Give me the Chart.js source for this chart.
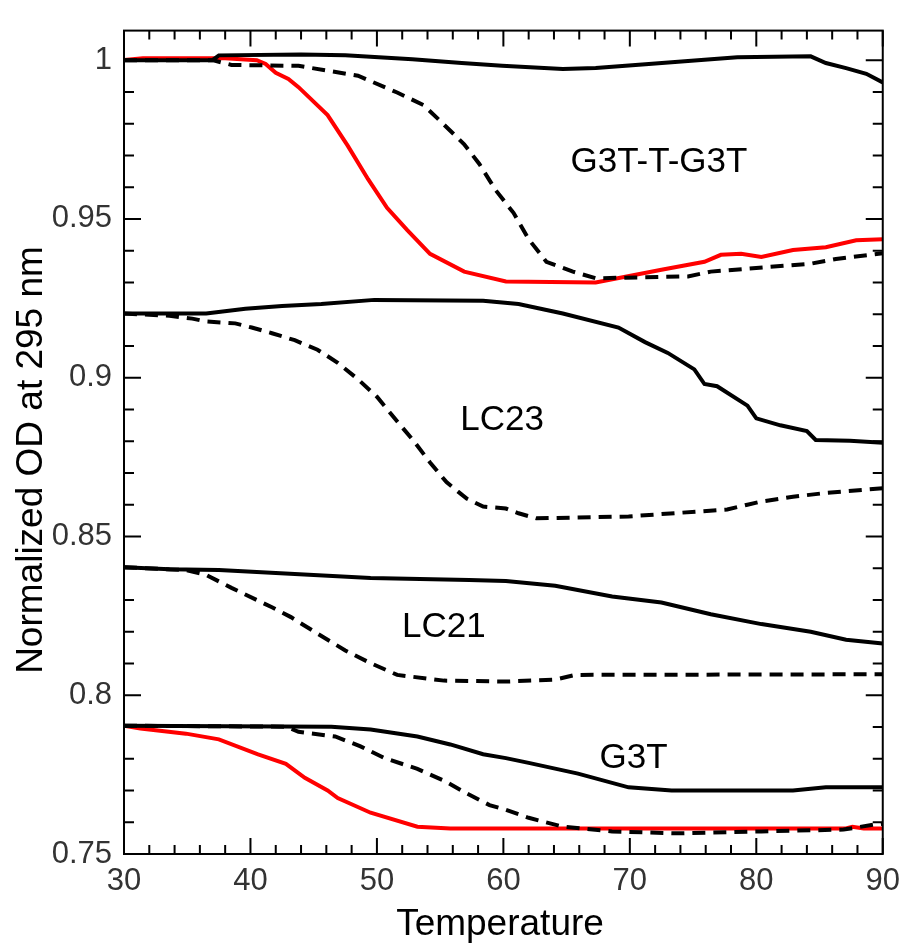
<!DOCTYPE html>
<html>
<head>
<meta charset="utf-8">
<title>Normalized OD at 295 nm</title>
<script src="https://cdn.jsdelivr.net/npm/chart.js@4.4.1/dist/chart.umd.min.js"></script>
<style>
  body { margin: 0; background: #fff; }
  #wrap { width: 909px; height: 943px; }
</style>
</head>
<body>
<div id="wrap"><canvas id="odChart" width="909" height="943"></canvas></div>
<script>
// axis ticks
const xTicks = [30, 40, 50, 60, 70, 80, 90];
const yTicks = [0.75, 0.8, 0.85, 0.9, 0.95, 1];

// [temperature, normalized OD]
const g3ttg3tSolid = [[30, 1.0], [37, 1.0], [37.5, 1.0015], [44, 1.0018], [47.5, 1.0015], [52.8, 1.0003], [56.7, 0.9991], [59.9, 0.9982], [64.7, 0.9972], [67.3, 0.9975], [71.5, 0.9988], [74.6, 0.9997], [78.5, 1.0009], [84.3, 1.0012], [85.5, 0.9991], [87.1, 0.9975], [88.7, 0.9957], [90, 0.993]];
const g3ttg3tDash = [[30, 1.0], [37, 1.0], [38.5, 0.9985], [43.8, 0.9982], [48.5, 0.9951], [51.6, 0.9898], [53.7, 0.9858], [55.3, 0.9797], [56.9, 0.9735], [58.1, 0.9673], [59.4, 0.959], [60.8, 0.9519], [62.0, 0.9436], [63.4, 0.9365], [65.5, 0.9334], [67.3, 0.9313], [74.6, 0.9319], [76.4, 0.9334], [84.3, 0.9359], [86.3, 0.9374], [90, 0.9392]];
const g3ttg3tRed = [[30, 1.0], [31.5, 1.0006], [38, 1.0006], [40.5, 1.0], [41.2, 0.9988], [42, 0.996], [43, 0.9941], [43.8, 0.9915], [46.1, 0.9827], [47.7, 0.973], [49.3, 0.9625], [50.8, 0.9535], [52.4, 0.9465], [54.2, 0.939], [56.9, 0.9334], [60.2, 0.9303], [67.3, 0.9300], [72.5, 0.934], [75.9, 0.9365], [77.2, 0.9387], [78.8, 0.939], [80.4, 0.938], [82.9, 0.9402], [85.5, 0.9411], [87.9, 0.9433], [90, 0.9436]];

const lc23Solid = [[30, 0.9202], [36.5, 0.9202], [39.6, 0.9217], [42.5, 0.9226], [45.6, 0.9232], [49.8, 0.9245], [58.4, 0.9242], [61.2, 0.9232], [64.7, 0.9202], [69.1, 0.9158], [71.2, 0.9112], [73, 0.9078], [75.1, 0.9026], [75.9, 0.898], [76.9, 0.8973], [79.3, 0.8912], [80, 0.8872], [81.9, 0.885], [84, 0.8832], [84.7, 0.8804], [87.4, 0.8801], [90, 0.8795]];
const lc23Dash = [[30, 0.9202], [33.6, 0.9195], [35.4, 0.9186], [36.5, 0.9177], [38.8, 0.9171], [40.1, 0.9158], [41.7, 0.914], [43.5, 0.9118], [45.3, 0.9088], [46.9, 0.9047], [48.5, 0.8995], [50, 0.894], [51.4, 0.8872], [52.9, 0.8801], [54.2, 0.8733], [55.5, 0.8671], [57.1, 0.8619], [58.4, 0.8594], [60.2, 0.8588], [61.2, 0.8573], [62.6, 0.8557], [69.9, 0.8563], [77.7, 0.8585], [79.3, 0.86], [80.4, 0.861], [82.9, 0.8625], [85.5, 0.8637], [90, 0.8652]];

const lc21Solid = [[30, 0.8403], [33.6, 0.8397], [37.5, 0.8394], [43.5, 0.8382], [49.5, 0.8369], [57.3, 0.8363], [60.2, 0.836], [64.1, 0.8345], [68.6, 0.8311], [72.5, 0.8292], [76.4, 0.8255], [80.4, 0.8224], [84.3, 0.82], [87.1, 0.8175], [90, 0.8163]];
const lc21Dash = [[30, 0.8403], [34.9, 0.8394], [36.5, 0.8379], [38.5, 0.8338], [41.7, 0.8277], [43.2, 0.8246], [45.3, 0.8194], [47.5, 0.8141], [49.5, 0.8101], [51.6, 0.8064], [55.3, 0.8046], [60.2, 0.8043], [64.1, 0.8049], [65.7, 0.8064], [90, 0.8066]];

const g3tSolid = [[30, 0.7904], [46.4, 0.7901], [49.5, 0.7892], [53.2, 0.787], [55.8, 0.7845], [58.4, 0.7814], [60.2, 0.7802], [62, 0.7787], [65.9, 0.7753], [69.9, 0.771], [73.3, 0.77], [82.9, 0.77], [85.5, 0.771], [90, 0.771]];
const g3tDash = [[30, 0.7904], [42.8, 0.7901], [43.8, 0.7885], [46.7, 0.787], [48.7, 0.7839], [50.6, 0.7802], [53.2, 0.7768], [55.3, 0.7731], [57.1, 0.7691], [58.9, 0.7654], [60.2, 0.7639], [62, 0.7614], [64.7, 0.7586], [68.6, 0.7571], [73.8, 0.7565], [80.4, 0.7571], [86.9, 0.7577], [89.4, 0.7593], [90, 0.7595]];
const g3tRed = [[30, 0.7904], [31.3, 0.7895], [34.9, 0.7879], [37.5, 0.7861], [40.6, 0.7814], [42.8, 0.7784], [44.3, 0.774], [46.1, 0.77], [46.9, 0.7676], [49.5, 0.763], [53.2, 0.7586], [55.8, 0.758], [87, 0.758], [87.6, 0.7586], [88.5, 0.758], [90, 0.758]];

// curve labels: [text, temperature, OD]
const curveLabels = [
    ['G3T-T-G3T', 72.3, 0.9679],
    ['LC23', 59.9, 0.8867],
    ['LC21', 55.3, 0.8213],
    ['G3T', 70.3, 0.7802]
];

const FONT = "'Liberation Sans', Arial, sans-serif";
Chart.defaults.font.family = FONT;

function toPoints(arr) {
    return arr.map(p => ({ x: p[0], y: p[1] }));
}

function line(data, color, dashed) {
    return {
        data: toPoints(data),
        borderColor: color,
        borderWidth: 4,
        borderDash: dashed ? [13, 8] : [],
        pointRadius: 0,
        tension: 0,
        fill: false
    };
}

const framePlugin = {
    id: 'frame',
    afterDatasetsDraw(chart) {
        const { ctx, chartArea: a, scales: { x, y } } = chart;
        ctx.save();
        ctx.strokeStyle = '#000';
        ctx.lineWidth = 2;
        ctx.strokeRect(a.left, a.top, a.right - a.left, a.bottom - a.top);

        ctx.beginPath();
        for (let t = 30; t <= 90; t += 2) {
            const px = x.getPixelForValue(t);
            const len = t % 10 === 0 ? 16 : 9;
            ctx.moveTo(px, a.bottom); ctx.lineTo(px, a.bottom - len);
            ctx.moveTo(px, a.top); ctx.lineTo(px, a.top + len);
        }
        for (let k = 75; k <= 100; k++) {
            const py = y.getPixelForValue(k / 100);
            const len = k % 5 === 0 ? 17 : 10;
            ctx.moveTo(a.left, py); ctx.lineTo(a.left + len, py);
            ctx.moveTo(a.right, py); ctx.lineTo(a.right - len, py);
        }
        ctx.stroke();

        ctx.fillStyle = '#000';
        ctx.font = '35px ' + FONT;
        ctx.textAlign = 'center';
        ctx.textBaseline = 'middle';
        curveLabels.forEach(l => {
            ctx.fillText(l[0], x.getPixelForValue(l[1]), y.getPixelForValue(l[2]));
        });
        ctx.restore();
    },
    afterDraw(chart) {
        const { ctx } = chart;
        ctx.save();
        ctx.fillStyle = '#000';
        ctx.font = '37px ' + FONT;
        ctx.textAlign = 'center';
        ctx.textBaseline = 'alphabetic';
        ctx.fillText('Temperature', 500, 935);
        ctx.translate(42, 460);
        ctx.rotate(-Math.PI / 2);
        ctx.fillText('Normalized OD at 295 nm', 0, 0);
        ctx.restore();
    }
};

new Chart(document.getElementById('odChart'), {
    type: 'line',
    data: {
        datasets: [
            line(g3ttg3tSolid, '#000', false),
            line(g3ttg3tDash, '#000', true),
            line(lc23Solid, '#000', false),
            line(lc23Dash, '#000', true),
            line(lc21Solid, '#000', false),
            line(lc21Dash, '#000', true),
            line(g3tSolid, '#000', false),
            line(g3tDash, '#000', true),
            line(g3ttg3tRed, '#ff0000', false),
            line(g3tRed, '#ff0000', false)
        ]
    },
    options: {
        responsive: false,
        animation: false,
        devicePixelRatio: 1,
        layout: { padding: { left: 0, top: 14, right: 20, bottom: 0 } },
        plugins: { legend: { display: false }, tooltip: { enabled: false } },
        scales: {
            x: {
                type: 'linear',
                min: 30,
                max: 90,
                afterBuildTicks: s => { s.ticks = xTicks.map(v => ({ value: v })); },
                afterFit: s => { s.height = 89; },
                grid: { display: false, drawTicks: false },
                border: { display: false },
                ticks: { autoSkip: false, maxRotation: 0, padding: 9, color: '#333', font: { size: 31 } }
            },
            y: {
                type: 'linear',
                min: 0.75,
                max: 1.0093,
                afterBuildTicks: s => { s.ticks = yTicks.map(v => ({ value: v })); },
                afterFit: s => { s.width = 124; },
                grid: { display: false, drawTicks: false },
                border: { display: false },
                ticks: {
                    padding: 12,
                    color: '#333',
                    font: { size: 31 },
                    callback: v => String(Math.round(v * 100) / 100)
                }
            }
        }
    },
    plugins: [framePlugin]
});
</script>
</body>
</html>
